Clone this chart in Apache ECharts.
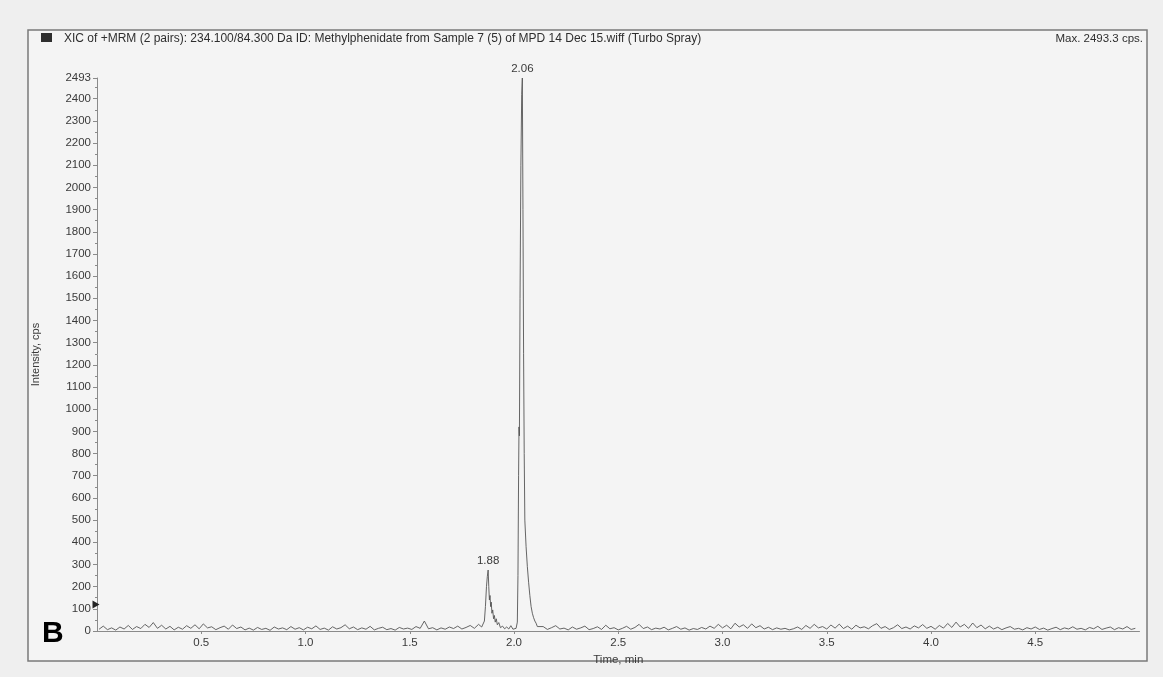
<!DOCTYPE html>
<html>
<head>
<meta charset="utf-8">
<script src="https://cdn.jsdelivr.net/npm/echarts@6/dist/echarts.min.js"></script>
<style>
html,body{margin:0;padding:0;background:#efefef;}
#chart{width:1163px;height:677px;}
</style>
</head>
<body>
<div id="chart"></div>
<script>
// ---- data (time in min, intensity in cps) ----
const titleText = "XIC of +MRM (2 pairs): 234.100/84.300 Da ID: Methylphenidate from Sample 7 (5) of MPD 14 Dec 15.wiff (Turbo Spray)";
const maxText = "Max. 2493.3 cps.";
const panelLabel = "B";
const xAxisName = "Time, min";
const yAxisName = "Intensity, cps";
const yMax = 2493.3;
const xTickLabels = ["0.5","1.0","1.5","2.0","2.5","3.0","3.5","4.0","4.5"];
const peakLabels = [
  {text: "1.88", t: 1.876, v: 275},
  {text: "2.06", t: 2.040, v: 2493.3}
];
const thresholdMarker = [0, 120];

const baselineA = [
 [0.01,8],[0.03,22],[0.05,6],[0.07,14],[0.09,4],[0.11,18],[0.13,9],[0.15,25],[0.17,7],[0.19,20],
 [0.21,11],[0.23,30],[0.25,16],[0.27,38],[0.29,12],[0.31,26],[0.33,9],[0.35,21],[0.37,5],[0.39,17],
 [0.41,8],[0.43,24],[0.45,12],[0.47,28],[0.49,10],[0.51,32],[0.53,14],[0.55,19],[0.57,6],[0.59,15],
 [0.61,22],[0.63,8],[0.65,27],[0.67,11],[0.69,18],[0.71,5],[0.73,13],[0.75,4],[0.77,16],[0.79,7],
 [0.81,12],[0.83,3],[0.85,18],[0.87,9],[0.89,14],[0.91,6],[0.93,20],[0.95,8],[0.97,15],[0.99,5],
 [1.01,17],[1.03,10],[1.05,23],[1.07,7],[1.09,13],[1.11,4],[1.13,19],[1.15,9],[1.17,15],[1.19,28],
 [1.21,10],[1.23,18],[1.25,6],[1.27,14],[1.29,8],[1.31,21],[1.33,5],[1.35,12],[1.37,17],[1.39,6],
 [1.41,11],[1.43,4],[1.45,16],[1.47,9],[1.49,13],[1.51,7],[1.53,20],[1.55,12],[1.57,45],[1.59,10],
 [1.61,15],[1.63,5],[1.65,14],[1.67,8],[1.69,18],[1.71,11],[1.73,22],[1.75,9],[1.77,16],[1.79,25],
 [1.81,12],[1.83,30],[1.845,18]
];
const peak188 = [
 [1.852,20],[1.858,45],[1.863,110],[1.868,200],[1.872,245],[1.876,275],[1.879,200],[1.882,140],
 [1.885,160],[1.888,110],[1.891,130],[1.894,80],[1.898,95],[1.902,55],[1.906,70],[1.91,40],
 [1.915,55],[1.92,28],[1.927,38],[1.935,15],[1.945,22]
];
const baselineB = [
 [1.955,10],[1.965,18],[1.975,9],[1.985,24],[1.995,8],[2.004,15]
];
const peak206 = [
 [2.010,12],[2.016,40],[2.019,250],[2.022,700],[2.024,920],[2.026,880],[2.029,1500],[2.033,2100],
 [2.037,2420],[2.040,2493.3],[2.043,1900],[2.046,1250],[2.049,800],[2.052,500],[2.058,380],
 [2.064,290],[2.070,220],[2.076,160],[2.082,110],[2.088,80],[2.094,60],[2.100,45],[2.106,35],[2.112,20]
];
const baselineC = [
 [2.12,12],[2.14,20],[2.16,7],[2.18,15],[2.20,24],[2.22,9],[2.24,13],[2.26,5],[2.28,18],[2.30,8],
 [2.32,14],[2.34,22],[2.36,6],[2.38,11],[2.40,19],[2.42,7],[2.44,26],[2.46,10],[2.48,15],[2.50,5],
 [2.52,12],[2.54,21],[2.56,8],[2.58,16],[2.60,30],[2.62,11],[2.64,18],[2.66,6],[2.68,13],[2.70,9],
 [2.72,17],[2.74,5],[2.76,12],[2.78,20],[2.80,8],[2.82,14],[2.84,4],[2.86,11],[2.88,7],[2.90,16],
 [2.92,9],[2.94,22],[2.96,12],[2.98,30],[3.00,14],[3.02,26],[3.04,10],[3.06,35],[3.08,18],[3.10,28],
 [3.12,12],[3.14,32],[3.16,15],[3.18,24],[3.20,9],[3.22,17],[3.24,6],[3.26,14],[3.28,8],[3.30,12],
 [3.32,5],[3.34,10],[3.36,18],[3.38,7],[3.40,25],[3.42,12],[3.44,30],[3.46,14],[3.48,20],[3.50,9],
 [3.52,27],[3.54,13],[3.56,31],[3.58,11],[3.60,22],[3.62,8],[3.64,26],[3.66,14],[3.68,19],[3.70,10],
 [3.72,24],[3.74,33],[3.76,12],[3.78,20],[3.80,7],[3.82,15],[3.84,28],[3.86,11],[3.88,18],[3.90,9],
 [3.92,23],[3.94,14],[3.96,29],[3.98,12],[4.00,21],[4.02,8],[4.04,25],[4.06,13],[4.08,34],[4.10,16],
 [4.12,40],[4.14,18],[4.16,30],[4.18,12],[4.20,36],[4.22,15],[4.24,27],[4.26,10],[4.28,22],[4.30,9],
 [4.32,17],[4.34,6],[4.36,14],[4.38,20],[4.40,8],[4.42,12],[4.44,5],[4.46,15],[4.48,9],[4.50,18],
 [4.52,7],[4.54,13],[4.56,4],[4.58,11],[4.60,17],[4.62,6],[4.64,14],[4.66,9],[4.68,19],[4.70,8],
 [4.72,12],[4.74,5],[4.76,16],[4.78,10],[4.80,21],[4.82,7],[4.84,13],[4.86,18],[4.88,6],[4.90,15],
 [4.92,9],[4.94,20],[4.96,7],[4.98,12]
];

const trace = [].concat(baselineA, peak188, baselineB, peak206, baselineC);

const FONT = '"Liberation Sans", Arial, sans-serif';
const TXT = '#3a3a3a';

const chart = echarts.init(document.getElementById('chart'), null, {renderer: 'canvas'});
chart.setOption({
  animation: false,
  backgroundColor: '#efefef',
  textStyle: {fontFamily: FONT},
  graphic: [
    {type: 'rect', z: -10, shape: {x: 28, y: 30, width: 1119, height: 631},
     style: {fill: '#f4f4f4', stroke: '#7a7a7a', lineWidth: 1.5}},
    {type: 'rect', shape: {x: 41, y: 33, width: 11, height: 9}, style: {fill: '#2e2e2e'}},
    {type: 'text', left: 64, top: 33,
     style: {text: titleText, fill: '#2e2e2e', font: '12px ' + FONT}},
    {type: 'text', right: 1163 - 1143, top: 33,
     style: {text: maxText, fill: '#2e2e2e', font: '11.5px ' + FONT}},
    {type: 'text', left: 42, top: 619,
     style: {text: panelLabel, fill: '#000', font: 'bold 30px ' + FONT}}
  ],
  grid: {left: 97, right: 23.5, top: 78, bottom: 46, containLabel: false},
  xAxis: {
    type: 'value', min: 0, max: 5, interval: 0.5,
    name: xAxisName, nameLocation: 'middle', nameGap: 20,
    nameTextStyle: {color: TXT, fontSize: 11.5, fontFamily: FONT},
    axisLine: {show: true, onZero: false, lineStyle: {color: '#8a8a8a', width: 1}},
    axisTick: {show: true, length: 3, lineStyle: {color: '#8a8a8a'}},
    axisLabel: {
      showMinLabel: false, showMaxLabel: false, color: TXT, fontSize: 11.5, margin: 6,
      formatter: function (v) { const s = v.toFixed(1); return xTickLabels.indexOf(s) >= 0 ? s : ''; }
    },
    splitLine: {show: false}
  },
  yAxis: {
    type: 'value', min: 0, max: yMax, interval: 100,
    name: yAxisName, nameLocation: 'middle', nameGap: 56, nameRotate: 90,
    nameTextStyle: {color: TXT, fontSize: 11, fontFamily: FONT},
    axisLine: {show: true, lineStyle: {color: '#8a8a8a', width: 1}},
    axisTick: {show: true, length: 4, lineStyle: {color: '#8a8a8a'}},
    minorTick: {show: true, splitNumber: 2, length: 2, lineStyle: {color: '#8a8a8a'}},
    axisLabel: {color: TXT, fontSize: 11.5, margin: 6,
      formatter: function (v) { return String(Math.round(v)); }},
    splitLine: {show: false}
  },
  series: [{
    type: 'line',
    data: trace,
    showSymbol: false,
    symbol: 'none',
    lineStyle: {color: '#555', width: 0.9},
    markPoint: {
      silent: true,
      data: peakLabels.map(p => ({
        coord: [p.t, p.v], symbol: 'circle', symbolSize: 0,
        label: {show: true, position: 'top', distance: 3, formatter: p.text,
                color: TXT, fontSize: 11.5, fontFamily: FONT}
      })).concat([{
        coord: thresholdMarker, symbol: 'triangle', symbolSize: [8, 7], symbolRotate: -90,
        symbolOffset: [-1, 0], itemStyle: {color: '#222'}, label: {show: false}
      }])
    }
  }]
});
</script>
</body>
</html>
